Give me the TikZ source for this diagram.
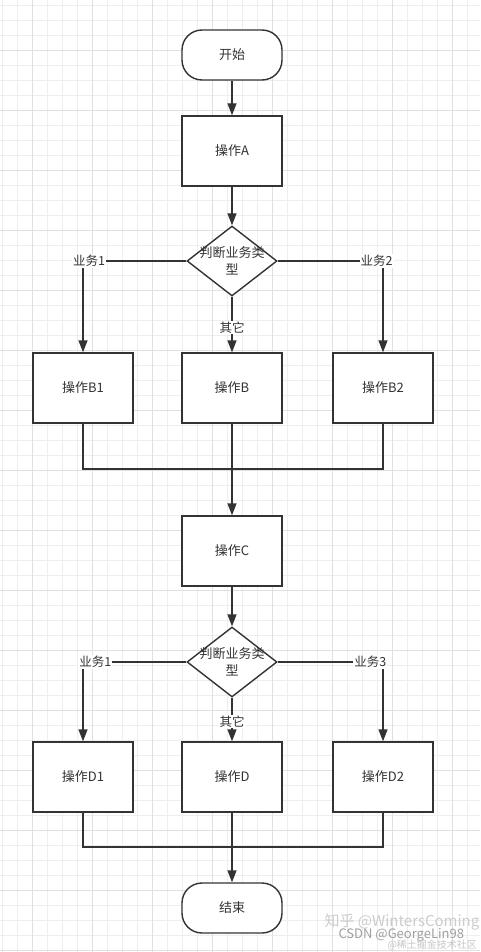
\documentclass[tikz,border=0pt]{standalone}
\usepackage{fontspec}
\setmainfont{Noto Sans CJK SC}
\usetikzlibrary{shapes.geometric, positioning, arrows.meta}

\definecolor{inkgray}{HTML}{333333}

\tikzset{
  gridminor/.style={draw=gray!13, line width=0.7pt},
  gridmajor/.style={draw=gray!24, line width=0.8pt},
  op/.style={draw=inkgray, line width=1.4pt, fill=white, text=inkgray,
    minimum width=100pt, minimum height=70pt, font=\fontsize{13}{15}\selectfont},
  term/.style={op, rounded corners=20pt, minimum height=50pt},
  judge/.style={diamond, draw=inkgray, line width=1.4pt, fill=white,
    minimum width=90pt, minimum height=70pt, inner sep=0pt},
  flow/.style={draw=inkgray, line width=1.4pt, -{Triangle[length=12pt,width=9pt]}},
  link/.style={draw=inkgray, line width=1.4pt},
  lbl/.style={fill=white, text=inkgray, inner sep=1pt, font=\fontsize{12.5}{14}\selectfont},
}

\begin{document}
\begin{tikzpicture}[x=1pt, y=-1pt]
        % background + grid
        \fill[white] (0,0) rectangle (480,952);
        \useasboundingbox (0,0) rectangle (480,952);
        \foreach \gx in {2,17,...,480} \draw[gridminor] (\gx,0) -- (\gx,952);
        \foreach \gy in {5,20,...,952} \draw[gridminor] (0,\gy) -- (480,\gy);
        \foreach \gx in {32,92,...,480} \draw[gridmajor] (\gx,0) -- (\gx,952);
        \foreach \gy in {50,110,...,952} \draw[gridmajor] (0,\gy) -- (480,\gy);

        \node[term] (start) at (232, 55) {开始};
        \node[op] (opA) at (232, 151) {操作A};
        \node[judge, label={[align=center, text=inkgray, font=\fontsize{13}{17}\selectfont]center:判断业务类\\型}] (dec1) at (232, 261) {};
        \node[op] (opB1) at (83, 388) {操作B1};
        \node[op] (opB) at (232, 388) {操作B};
        \node[op] (opB2) at (383, 388) {操作B2};
        \coordinate (jB) at (232, 469);
        \node[op] (opC) at (232, 551) {操作C};
        \node[judge, label={[align=center, text=inkgray, font=\fontsize{13}{17}\selectfont]center:判断业务类\\型}] (dec2) at (232, 662) {};
        \node[op] (opD1) at (83, 777) {操作D1};
        \node[op] (opD) at (232, 777) {操作D};
        \node[op] (opD2) at (383, 777) {操作D2};
        \coordinate (jD) at (232, 847);
        \node[term] (stop) at (232, 908) {结束};

        \draw[flow] (start) -- (opA);
        \draw[flow] (opA) -- (dec1);
        \draw[flow] (dec1.west) -| node[lbl, pos=0.47] {业务1} (opB1.north);
        \draw[flow] (dec1.east) -| node[lbl, pos=0.47] {业务2} (opB2.north);
        \draw[flow] (dec1.south) -- node[lbl, pos=0.55] {其它} (opB.north);
        \draw[link] (opB1.south) |- (jB) -| (opB2.south);
        \draw[flow] (opB) -- (opC);

        \draw[flow] (opC) -- (dec2);
        \draw[flow] (dec2.west) -| node[lbl, pos=0.44] {业务1} (opD1.north);
        \draw[flow] (dec2.east) -| node[lbl, pos=0.44] {业务3} (opD2.north);
        \draw[flow] (dec2.south) -- node[lbl, pos=0.55] {其它} (opD.north);
        \draw[link] (opD1.south) |- (jD) -| (opD2.south);
        \draw[flow] (opD) -- (stop);

        % watermarks
        \node[anchor=west, text=gray!40, font=\fontsize{15}{15}\selectfont] (wmZhihu) at (321, 922) {知乎 @WintersComing};
        \node[anchor=west, text=gray!75, font=\fontsize{13}{13}\selectfont] (wmCsdn) at (335, 935) {CSDN @GeorgeLin98};
        \node[anchor=west, text=gray!45, font=\fontsize{10}{10}\selectfont] (wmJuejin) at (384, 945) {@稀土掘金技术社区};
\end{tikzpicture}
\end{document}
